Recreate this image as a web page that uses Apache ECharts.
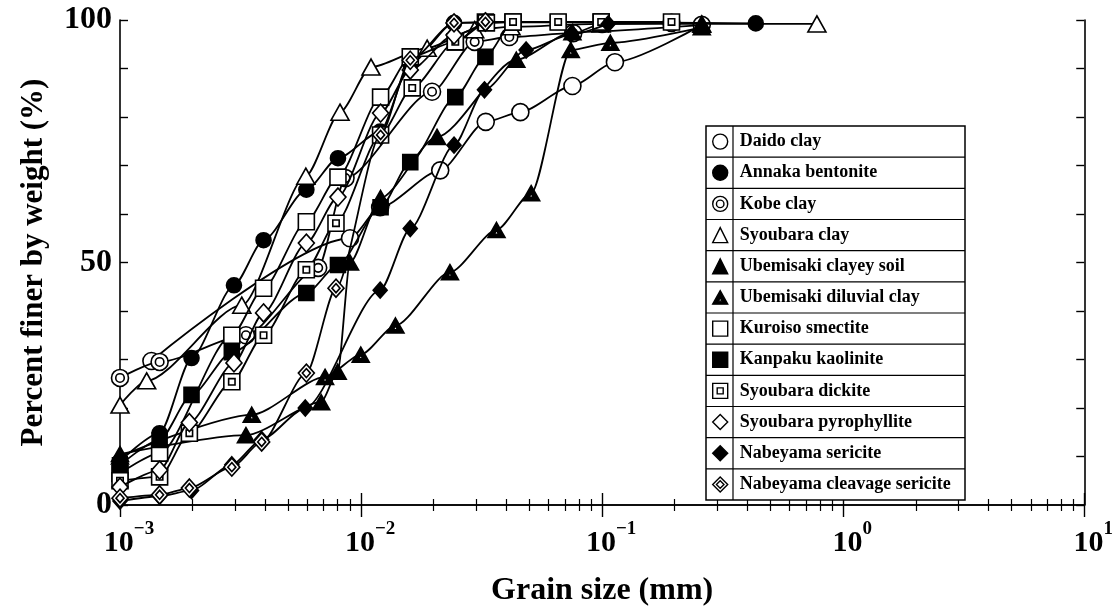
<!DOCTYPE html>
<html><head><meta charset="utf-8">
<script src="https://cdn.jsdelivr.net/npm/echarts@6/dist/echarts.min.js"></script>
<style>html,body{margin:0;padding:0;background:#fff;}#c{width:1116px;height:616px;}</style>
</head><body><div id="c"></div>
<script>
// ---- data (grain size mm, percent finer) ----
const seriesNames = ['Daido clay','Annaka bentonite','Kobe clay','Syoubara clay','Ubemisaki clayey soil','Ubemisaki diluvial clay','Kuroiso smectite','Kanpaku kaolinite','Syoubara dickite','Syoubara pyrophyllite','Nabeyama sericite','Nabeyama cleavage sericite'];
const xTickValues = [0.001, 0.01, 0.1, 1, 10];
const yLabelValues = [0, 50, 100];

const daidoClay = [[0.00135,29.7],[0.0090,55.0],[0.0120,61.4],[0.0213,69.0],[0.0329,79.0],[0.0458,81.0],[0.0753,86.4],[0.113,91.3],[0.259,99.0]];
const annakaBentonite = [[0.001,9.0],[0.00146,14.8],[0.00198,30.3],[0.00297,45.3],[0.00394,54.6],[0.00593,65.0],[0.00802,71.5],[0.0120,77.0],[0.016,91.0],[0.0243,99.4],[0.0427,99.5],[0.0991,99.5],[0.434,99.3]];
const kobeClay = [[0.001,26.2],[0.00146,29.5],[0.00333,35.0],[0.00664,48.9],[0.00862,67.4],[0.0197,85.2],[0.0296,95.5],[0.0412,96.5],[0.0759,97.3],[0.1,99.2],[0.194,99.4]];
const syoubaraClay = [[0.001,20.6],[0.00129,25.6],[0.0032,41.2],[0.0059,67.8],[0.00818,81.0],[0.0110,90.3],[0.0188,94.2],[0.0296,98.0],[0.0419,98.6],[0.0991,99.2],[0.259,99.2],[0.778,99.2]];
const ubemisakiClayeySoil = [[0.001,10.5],[0.00333,14.4],[0.00683,21.2],[0.0080,27.5],[0.0090,50.0],[0.01205,63.3],[0.02066,75.9],[0.04406,91.8],[0.0753,97.5],[0.259,99.0]];
const ubemisakiDiluvialClay = [[0.001,10.0],[0.00352,18.6],[0.00709,26.4],[0.00997,31.0],[0.01389,37.0],[0.02337,48.0],[0.03646,56.7],[0.05077,64.3],[0.0741,93.8],[0.1082,95.3],[0.259,98.5]];
const kuroisoSmectite = [[0.001,6.5],[0.00146,10.7],[0.00291,35.0],[0.00394,44.7],[0.00593,58.4],[0.00802,67.6],[0.01205,84.1],[0.016,92.4],[0.0246,95.5],[0.0328,99.6],[0.0427,99.6],[0.0991,99.6]];
const kanpakuKaolinite = [[0.001,8.2],[0.00146,13.4],[0.00198,22.7],[0.00291,31.5],[0.00593,43.7],[0.00802,49.5],[0.01205,61.4],[0.016,70.7],[0.0246,84.1],[0.0328,92.4],[0.0427,99.6],[0.0657,99.6],[0.0991,99.6]];
const syoubaraDickite = [[0.001,5.0],[0.00146,5.8],[0.00194,14.8],[0.00291,25.4],[0.00394,35.0],[0.00593,48.5],[0.00787,58.1],[0.01205,76.3],[0.0163,86.0],[0.0246,95.5],[0.0331,99.4],[0.0427,99.6],[0.0657,99.6],[0.0991,99.6],[0.194,99.6]];
const syoubaraPyrophyllite = [[0.001,3.7],[0.00146,7.2],[0.00194,17.0],[0.00297,29.3],[0.00394,39.6],[0.00593,54.0],[0.00802,63.5],[0.01205,80.8],[0.016,89.7],[0.0243,96.9],[0.0328,99.6]];
const nabeyamaSericite = [[0.001,0.8],[0.00146,1.8],[0.00198,3.0],[0.00291,8.3],[0.00387,13.5],[0.00587,20.0],[0.0120,44.3],[0.016,57.0],[0.0243,74.2],[0.0325,85.6],[0.0484,93.8],[0.0741,97.0],[0.106,99.2]];
const nabeyamaCleavageSericite = [[0.001,1.4],[0.00146,2.1],[0.00194,3.5],[0.00291,7.8],[0.00387,13.0],[0.00593,27.2],[0.00787,44.7],[0.01205,76.3],[0.016,91.7],[0.0243,99.4],[0.0328,99.6]];

const seriesData = [daidoClay, annakaBentonite, kobeClay, syoubaraClay, ubemisakiClayeySoil, ubemisakiDiluvialClay, kuroisoSmectite, kanpakuKaolinite, syoubaraDickite, syoubaraPyrophyllite, nabeyamaSericite, nabeyamaCleavageSericite];

// ---- marker styles ----
const DOUBLE_CIRCLE = 'path://M10,0 A10,10 0 1,1 10,20 A10,10 0 1,1 10,0 Z M10,5 A5,5 0 1,1 10,15 A5,5 0 1,1 10,5 Z';
const TRI_HOLE = 'path://M10,0 L20,18 L0,18 Z M10,9 L7.5,14 L12.5,14 Z';
const SQ_SQ = 'path://M0,0 H20 V20 H0 Z M6,6 H14 V14 H6 Z';
const DIA_DIA = 'path://M10,0 L20,10 L10,20 L0,10 Z M10,5 L15,10 L10,15 L5,10 Z';
const markers = [
  {symbol:'circle', size:17, fill:'#fff'},
  {symbol:'circle', size:15, fill:'#000'},
  {symbol:DOUBLE_CIRCLE, size:17, fill:'#fff'},
  {symbol:'triangle', size:[18,16], fill:'#fff'},
  {symbol:'triangle', size:[17,15], fill:'#000'},
  {symbol:TRI_HOLE, size:[17,15], fill:'#000'},
  {symbol:'rect', size:16, fill:'#fff'},
  {symbol:'rect', size:15, fill:'#000'},
  {symbol:SQ_SQ, size:16, fill:'#fff'},
  {symbol:'diamond', size:[16,18], fill:'#fff'},
  {symbol:'diamond', size:[14,16], fill:'#000'},
  {symbol:DIA_DIA, size:[16,18], fill:'#fff'}
];

const FONT = '"Liberation Serif", "Times New Roman", serif';
const chart = echarts.init(document.getElementById('c'), null, {renderer:'canvas'});

const series = seriesData.map((d, i) => ({
  name: seriesNames[i],
  type: 'line',
  data: d,
  xAxisIndex: 0, yAxisIndex: 0,
  symbol: markers[i].symbol,
  symbolSize: markers[i].size,
  showAllSymbol: true,
  smooth: 0.25,
  smoothMonotone: 'x',
  lineStyle: {color:'#000', width:1.8},
  itemStyle: {color: markers[i].fill, borderColor:'#000', borderWidth:1.6},
  emphasis: {disabled:true},
  z: 2 + i
}));

const legendData = seriesNames.map((n, i) => ({
  name: n,
  icon: markers[i].symbol,
  itemStyle: {color: markers[i].fill, borderColor:'#000', borderWidth:1.4}
}));

// legend table
const LX = 706, LY = 126, LW = 259, LH = 374, ROWS = 12, DIV = 733;
const LFONT = 18;
const ROWH = LH / ROWS, ICON = 15, ITEMH = Math.max(ICON, LFONT);
const tableEls = [{type:'rect', z:50, shape:{x:LX, y:LY, width:LW, height:LH}, style:{fill:'#fff', stroke:'#000', lineWidth:1.5}}];
for (let r = 1; r < ROWS; r++) {
  const y = LY + r * ROWH;
  tableEls.push({type:'line', z:51, shape:{x1:LX, y1:y, x2:LX+LW, y2:y}, style:{stroke:'#000', lineWidth:1.2}});
}
tableEls.push({type:'line', z:51, shape:{x1:DIV, y1:LY, x2:DIV, y2:LY+LH}, style:{stroke:'#000', lineWidth:1.2}});

const supFmt = v => {
  const e = Math.round(Math.log10(v));
  return '{b|10}{s|' + (e < 0 ? '\u2212' + (-e) : e) + '}';
};

const xAxisCommon = {
  type:'log', logBase:10, min:0.001, max:10,
  axisLine:{show:true, lineStyle:{color:'#000', width:1.6}},
  axisTick:{show:true, inside:true, length:12, lineStyle:{color:'#000', width:1.4}},
  minorTick:{show:true, splitNumber:9, length:6, lineStyle:{color:'#000', width:1.2}},
  splitLine:{show:false}, minorSplitLine:{show:false}
};
const yAxisCommon = {
  type:'value', min:0, max:100, interval:10,
  axisLine:{show:true, lineStyle:{color:'#000', width:1.6}},
  axisTick:{show:true, inside:true, length:8, lineStyle:{color:'#000', width:1.4}},
  splitLine:{show:false}
};

chart.setOption({
  animation:false,
  backgroundColor:'#fff',
  grid:{left:120, right:23, top:20, bottom:111, containLabel:false},
  xAxis:[
    Object.assign({}, xAxisCommon, {
      position:'bottom',
      name:'Grain size (mm)', nameLocation:'middle', nameGap:70,
      nameTextStyle:{fontFamily:FONT, fontWeight:'bold', fontSize:32, color:'#000'},
      axisLabel:{show:true, margin:15, formatter:supFmt, padding:[0,0,0,18],
        rich:{
          b:{fontFamily:FONT, fontWeight:'bold', fontSize:30, color:'#000', verticalAlign:'bottom', lineHeight:38},
          s:{fontFamily:FONT, fontWeight:'bold', fontSize:19, color:'#000', verticalAlign:'top', lineHeight:19}
        }}
    }),
    Object.assign({}, xAxisCommon, {position:'top', axisLabel:{show:false}})
  ],
  yAxis:[
    Object.assign({}, yAxisCommon, {
      position:'left',
      name:'Percent finer by weight (%)', nameLocation:'middle', nameGap:71,
      nameTextStyle:{fontFamily:FONT, fontWeight:'bold', fontSize:31, color:'#000'},
      axisLabel:{show:true, margin:8, color:'#000', fontFamily:FONT, fontWeight:'bold', fontSize:32,
        formatter: v => (yLabelValues.indexOf(v) >= 0 ? String(v) : '')}
    }),
    Object.assign({}, yAxisCommon, {position:'right', axisLabel:{show:false}})
  ],
  legend:{
    show:true, orient:'vertical', left:LX+6, top:LY+(ROWH-ITEMH)/2, z:60, padding:0,
    itemWidth:ICON, itemHeight:ICON, itemGap:ROWH-ITEMH,
    selectedMode:false,
    data:legendData,
    textStyle:{fontFamily:FONT, fontWeight:'bold', fontSize:LFONT, color:'#000', padding:[0,0,0,7]}
  },
  graphic:{elements:tableEls},
  series: series
});
</script>
</body></html>
